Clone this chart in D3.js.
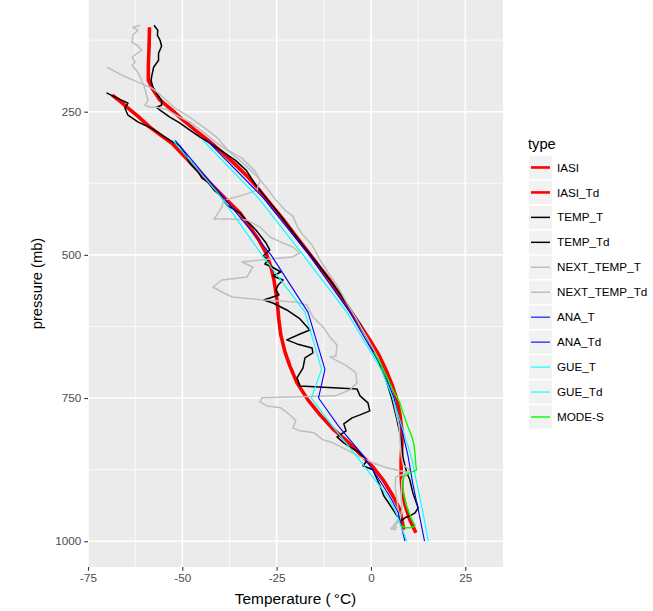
<!DOCTYPE html>
<html>
<head>
<meta charset="utf-8">
<script src="https://cdn.jsdelivr.net/npm/d3@7"></script>
<style>
  html, body { margin: 0; padding: 0; background: #ffffff; }
  svg { display: block; font-family: "Liberation Sans", Arial, Helvetica, sans-serif; }
</style>
</head>
<body>
<svg id="chart" width="653" height="611"></svg>
<script>
// Sounding profiles: each point is [temperature °C, pressure mb]
const types = ["IASI", "IASI_Td", "TEMP_T", "TEMP_Td", "NEXT_TEMP_T", "NEXT_TEMP_Td",
               "ANA_T", "ANA_Td", "GUE_T", "GUE_Td", "MODE-S"];

const iasiT = [[-58.7,102.6],[-58.8,134.0],[-59.0,168.9],[-59.0,195.1],[-58.0,209.0],[-55.9,229.9],
  [-52.7,247.4],[-50.1,263.1],[-46.6,282.3],[-43.2,299.7],[-39.5,320.6],[-35.8,343.3],[-32.6,364.2],
  [-30.0,383.4],[-26.8,409.6],[-23.3,437.5],[-20.1,465.4],[-17.0,491.6],[-14.0,517.7],[-10.9,543.9],
  [-8.2,570.0],[-5.6,596.2],[-2.9,622.4],[-0.3,648.5],[2.1,674.7],[4.0,700.9],[5.6,727.0],[6.9,753.2],
  [7.7,779.4],[8.2,805.5],[8.2,831.7],[8.0,857.8],[8.0,884.0],[8.2,910.1],[9.0,936.3],[10.3,962.5],[11.9,985.2]];

const iasiTd = [[-68.6,221.2],[-66.5,231.7],[-64.7,242.2],[-61.8,257.8],[-58.6,277.0],[-55.4,292.7],
  [-52.5,306.7],[-49.0,331.1],[-45.3,357.3],[-41.9,379.9],[-38.2,404.4],[-34.7,427.0],[-32.1,451.5],
  [-29.7,474.1],[-27.8,496.8],[-26.5,521.2],[-25.7,543.9],[-24.9,578.8],[-24.4,613.7],[-23.9,639.8],
  [-22.8,669.5],[-21.5,693.9],[-19.6,723.5],[-16.7,753.2],[-13.5,779.4],[-10.1,803.8],[-6.4,824.7],
  [-2.4,850.9],[0.5,870.0],[3.2,892.7],[5.8,920.6],[7.7,945.0],[8.7,979.9]];

const tempT = [[-57.5,99.1],[-56.5,107.9],[-56.6,116.6],[-55.9,125.3],[-55.5,135.8],[-56.3,148.0],
  [-56.3,160.2],[-57.6,172.4],[-58.0,184.6],[-58.3,195.1],[-57.8,207.3],[-56.5,221.2],[-55.5,229.9],
  [-55.5,238.7],[-56.9,242.2],[-55.9,247.4],[-53.3,259.6],[-50.6,270.1],[-48.0,282.3],[-45.3,294.5],
  [-42.7,304.9],[-39.5,318.9],[-36.0,334.6],[-33.1,352.0],[-30.5,378.2],[-27.3,404.4],[-24.1,430.5],
  [-20.9,458.4],[-17.5,488.1],[-14.3,514.2],[-10.9,543.9],[-8.0,570.0],[-5.3,596.2],[-2.7,622.4],
  [-0.8,648.5],[0.5,666.0],[2.1,686.9],[4.0,718.3],[5.6,753.2],[6.9,788.1],[8.0,822.9],[8.5,854.3],
  [9.5,880.5],[10.3,892.7],[11.1,915.4],[12.5,941.6],[11.7,950.4],[10.3,955.6],[9.0,959.1],[8.0,964.4]];

const tempTd = [[-70.1,217.2],[-67.9,224.2],[-66.1,229.9],[-64.4,235.2],[-65.2,243.9],[-64.4,256.1],
  [-61.8,267.8],[-58.0,279.7],[-55.4,291.0],[-53.3,299.7],[-50.6,310.2],[-49.0,325.9],[-48.0,339.8],
  [-45.9,353.8],[-44.8,366.0],[-43.2,373.0],[-41.6,386.9],[-40.0,395.6],[-38.2,413.1],[-34.7,427.0],
  [-33.1,439.2],[-30.5,456.7],[-27.8,479.4],[-26.8,491.6],[-28.6,502.0],[-27.3,509.0],[-28.1,516.0],
  [-26.2,521.2],[-23.9,529.9],[-26.0,536.9],[-23.3,543.9],[-24.6,552.6],[-25.2,561.3],[-24.4,570.0],
  [-28.4,578.8],[-26.0,584.0],[-22.3,596.2],[-18.8,611.9],[-16.2,631.1],[-18.8,638.1],[-22.3,648.5],
  [-19.6,655.5],[-15.6,662.5],[-15.4,671.2],[-17.5,679.9],[-18.0,697.4],[-19.6,714.8],[-18.8,728.8],
  [-3.7,734.0],[-2.9,746.2],[-0.8,758.4],[-0.3,772.4],[-2.9,779.4],[-5.0,784.6],[-7.2,795.1],
  [-6.6,807.3],[-9.0,817.8],[-7.2,828.2],[-5.6,835.2],[-3.4,843.9],[-1.1,859.6],[-2.1,868.3],
  [0.5,875.3],[2.4,903.2],[3.4,920.6],[5.0,936.3],[6.9,955.6],[8.2,962.5]];

const nextTempT = [[-61.2,99.1],[-63.1,102.6],[-61.8,107.9],[-63.1,116.6],[-63.3,128.8],[-62.0,134.0],
  [-60.7,142.7],[-62.0,148.0],[-63.3,154.9],[-62.5,163.7],[-63.3,168.9],[-61.8,181.1],[-61.0,191.6],
  [-60.2,203.8],[-59.6,217.7],[-59.1,229.9],[-59.9,238.7],[-58.6,242.2],[-56.7,242.2],[-54.3,245.6],
  [-51.7,256.1],[-48.0,268.3],[-44.5,285.8],[-41.1,303.2],[-37.4,320.6],[-33.9,339.8],[-30.5,360.8],
  [-27.8,381.7],[-25.2,404.4],[-22.8,421.8],[-20.7,432.3],[-19.6,449.7],[-18.0,465.4],[-15.6,482.8],
  [-13.5,509.0],[-10.9,535.2],[-8.7,556.1],[-6.4,584.0],[-4.0,610.2],[-1.9,634.6],[0.0,657.3],
  [1.9,680.0],[3.4,704.4],[4.8,727.0],[5.8,749.7],[6.6,774.1],[7.4,796.8],[7.7,822.9],[8.0,849.1],
  [8.5,866.5],[10.3,875.3],[9.0,882.2],[8.2,892.7],[8.0,918.9],[8.2,945.0],[7.7,962.5],[6.6,971.2],[5.8,979.9]];

const nextTempTd = [[-70.0,172.4],[-66.0,186.3],[-61.8,198.5],[-58.0,209.0],[-55.4,223.0],[-51.9,243.9],
  [-47.7,261.3],[-44.0,278.8],[-40.6,296.2],[-37.9,317.2],[-34.2,331.1],[-30.7,353.8],[-29.4,369.5],
  [-30.2,386.9],[-34.7,397.4],[-39.0,404.4],[-39.5,416.6],[-41.6,437.5],[-37.4,437.5],[-32.9,439.2],
  [-29.4,451.5],[-26.8,468.9],[-23.3,479.4],[-20.7,486.3],[-18.8,496.8],[-20.9,503.8],[-26.8,507.3],
  [-34.2,512.5],[-31.3,521.2],[-32.9,538.7],[-39.5,543.9],[-41.9,556.1],[-39.5,564.8],[-36.8,573.5],
  [-28.4,578.8],[-19.9,582.3],[-17.0,587.5],[-15.4,608.4],[-12.7,625.9],[-10.9,643.3],[-9.0,657.3],
  [-9.3,676.5],[-10.9,678.2],[-6.4,693.9],[-4.0,706.1],[-3.7,723.5],[-5.6,735.7],[-9.5,746.2],
  [-18.8,747.9],[-28.9,749.7],[-29.4,756.7],[-27.6,763.7],[-23.9,767.1],[-21.5,779.4],[-19.9,789.8],
  [-20.7,802.0],[-18.8,807.3],[-15.1,810.8],[-12.7,822.9],[-10.1,828.2],[-6.4,840.4],[-2.9,852.6],
  [0.5,863.1],[4.2,871.8],[7.7,877.0],[10.3,880.5],[8.5,884.0],[6.6,887.5],[6.4,904.9],[6.9,927.6],
  [7.2,945.0],[7.7,957.2],[7.2,962.5],[6.4,969.5],[5.3,978.2],[6.4,979.9],[6.9,974.7]];

const anaT = [[-43.5,300],[-28.6,400],[-16.4,500],[-5.6,600],[3.2,700],[6.1,750],[8.0,800],
  [9.8,850],[11.1,900],[11.9,925],[12.7,950],[14.2,1000]];

const anaTd = [[-51.9,300],[-39.0,400],[-26.5,500],[-16.7,600],[-12.2,700],[-13.9,750],[-8.5,800],
  [-2.1,850],[2.9,900],[5.3,925],[7.2,950],[9.0,1000]];

const gueT = [[-44.5,300],[-29.9,400],[-18.0,500],[-6.4,600],[2.7,700],[5.8,750],[8.2,800],
  [10.6,850],[12.2,900],[13.0,925],[13.8,950],[15.2,1000]];

const gueTd = [[-52.5,300],[-39.6,400],[-28.9,500],[-17.5,600],[-13.1,700],[-15.8,750],[-10.1,800],
  [-4.0,850],[1.9,900],[4.8,925],[6.6,950],[9.5,1000]];

const modeS = [[0.8,669.5],[2.4,688.7],[4.2,713.1],[5.8,735.7],[7.7,758.4],[8.5,775.9],[9.8,800.3],
  [10.9,817.8],[11.4,831.7],[11.7,849.1],[11.9,866.5],[12.1,875.3],[10.3,880.5],[8.7,887.5],
  [8.5,901.5],[8.6,915.4],[9.4,938.1],[10.7,960.8],[11.7,973.0],[10.6,976.5],[9.0,976.5],[7.7,971.2]];

const seriesData = [iasiT, iasiTd, tempT, tempTd, nextTempT, nextTempTd, anaT, anaTd, gueT, gueTd, modeS];
const seriesColors = ["#FF0000", "#FF0000", "#000000", "#000000", "#BEBEBE", "#BEBEBE",
                      "#0000FF", "#0000FF", "#00FFFF", "#00FFFF", "#00FF00"];
const seriesWidths = [3.6, 3.6, 1.5, 1.5, 1.5, 1.5, 1.1, 1.1, 1.1, 1.1, 1.4];

const xTicks = [-75, -50, -25, 0, 25];
const xMinor = [-62.5, -37.5, -12.5, 12.5];
const yTicks = [250, 500, 750, 1000];
const yMinor = [125, 375, 625, 875];

const svg = d3.select("#chart");
const panel = { left: 88, right: 503, top: 0, bottom: 567 };

const x = d3.scaleLinear().domain([-75, 35]).range([panel.left, panel.right]);
const y = d3.scaleLinear().domain([55, 1045]).range([panel.top, panel.bottom]);

// panel background
svg.append("rect")
  .attr("x", panel.left).attr("y", panel.top)
  .attr("width", panel.right - panel.left).attr("height", panel.bottom - panel.top)
  .attr("fill", "#EBEBEB");

svg.append("clipPath").attr("id", "panel-clip")
  .append("rect")
  .attr("x", panel.left).attr("y", panel.top)
  .attr("width", panel.right - panel.left).attr("height", panel.bottom - panel.top);

const grid = svg.append("g").attr("clip-path", "url(#panel-clip)");
grid.selectAll(".xminor").data(xMinor).join("line")
  .attr("x1", d => x(d)).attr("x2", d => x(d))
  .attr("y1", panel.top).attr("y2", panel.bottom)
  .attr("stroke", "#FFFFFF").attr("stroke-width", 0.8);
grid.selectAll(".yminor").data(yMinor).join("line")
  .attr("y1", d => y(d)).attr("y2", d => y(d))
  .attr("x1", panel.left).attr("x2", panel.right)
  .attr("stroke", "#FFFFFF").attr("stroke-width", 0.8);
grid.selectAll(".xmajor").data(xTicks).join("line")
  .attr("x1", d => x(d)).attr("x2", d => x(d))
  .attr("y1", panel.top).attr("y2", panel.bottom)
  .attr("stroke", "#FFFFFF").attr("stroke-width", 1.6);
grid.selectAll(".ymajor").data(yTicks).join("line")
  .attr("y1", d => y(d)).attr("y2", d => y(d))
  .attr("x1", panel.left).attr("x2", panel.right)
  .attr("stroke", "#FFFFFF").attr("stroke-width", 1.6);

// profile lines, drawn in legend order
const line = d3.line().x(d => x(d[0])).y(d => y(d[1]));
const lines = svg.append("g").attr("clip-path", "url(#panel-clip)");
seriesData.forEach((s, i) => {
  lines.append("path")
    .datum(s)
    .attr("d", line)
    .attr("fill", "none")
    .attr("stroke", seriesColors[i])
    .attr("stroke-width", seriesWidths[i])
    .attr("stroke-linejoin", "round")
    .attr("stroke-linecap", "butt");
});

// axes
const xAxis = svg.append("g")
  .attr("transform", `translate(0,${panel.bottom})`)
  .call(d3.axisBottom(x).tickValues(xTicks).tickSize(3.7).tickPadding(3)
    .tickFormat(d => String(d)));
const yAxis = svg.append("g")
  .attr("transform", `translate(${panel.left},0)`)
  .call(d3.axisLeft(y).tickValues(yTicks).tickSize(3.7).tickPadding(3)
    .tickFormat(d => String(d)));

[xAxis, yAxis].forEach(g => {
  g.select(".domain").remove();
  g.selectAll(".tick line").attr("stroke", "#333333").attr("stroke-width", 1.1);
  g.selectAll(".tick text")
    .attr("fill", "#4D4D4D")
    .style("font-size", "11.7px")
    .style("font-family", "'Liberation Sans', Arial, sans-serif");
});

// axis titles
svg.append("text")
  .attr("x", (panel.left + panel.right) / 2)
  .attr("y", 604)
  .attr("text-anchor", "middle")
  .style("font-size", "15.4px")
  .attr("fill", "#000000")
  .text("Temperature (\u2009°C)");

svg.append("text")
  .attr("transform", `translate(42,${(panel.top + panel.bottom) / 2}) rotate(-90)`)
  .attr("text-anchor", "middle")
  .style("font-size", "14.7px")
  .attr("fill", "#000000")
  .text("pressure (mb)");

// legend
const legend = svg.append("g");
legend.append("text")
  .attr("x", 528).attr("y", 149)
  .style("font-size", "14.7px")
  .attr("fill", "#000000")
  .text("type");

const keyTop = 155, keyStep = 24.95, keyW = 23, keyH = 23.2;
types.forEach((t, i) => {
  const cy = keyTop + i * keyStep + keyStep / 2;
  legend.append("rect")
    .attr("x", 529).attr("y", cy - keyH / 2)
    .attr("width", keyW).attr("height", keyH)
    .attr("fill", "#F2F2F2");
  legend.append("line")
    .attr("x1", 531).attr("x2", 550)
    .attr("y1", cy).attr("y2", cy)
    .attr("stroke", seriesColors[i])
    .attr("stroke-width", Math.min(seriesWidths[i], 2.6));
  legend.append("text")
    .attr("x", 557).attr("y", cy)
    .attr("dy", "0.35em")
    .style("font-size", "11.7px")
    .attr("fill", "#000000")
    .text(t);
});
</script>
</body>
</html>
